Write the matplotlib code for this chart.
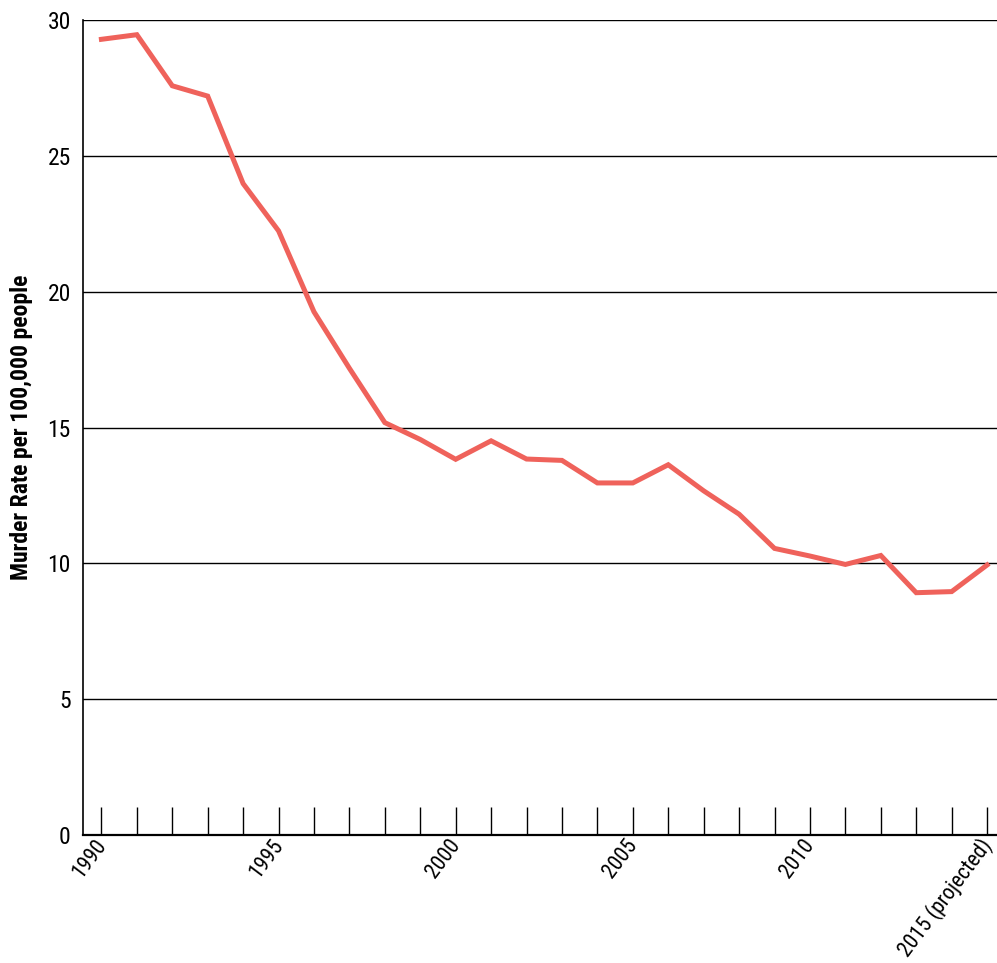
import matplotlib
matplotlib.use("Agg")
import matplotlib.pyplot as plt

years = [1990, 1991, 1992, 1993, 1994, 1995, 1996, 1997, 1998, 1999,
         2000, 2001, 2002, 2003, 2004, 2005, 2006, 2007, 2008, 2009,
         2010, 2011, 2012, 2013, 2014, 2015]
murder_rate = [29.29, 29.46, 27.58, 27.20, 23.98, 22.24, 19.26, 17.18, 15.18, 14.56,
               13.83, 14.51, 13.84, 13.79, 12.96, 12.96, 13.63, 12.67, 11.81, 10.55,
               10.27, 9.96, 10.29, 8.92, 8.96, 9.94]
label_years = [1990, 1995, 2000, 2005, 2010, 2015]
label_texts = ["1990", "1995", "2000", "2005", "2010", "2015 (projected)"]
y_ticks = [0, 5, 10, 15, 20, 25, 30]

plt.rcParams["font.family"] = ["Roboto Condensed", "DejaVu Sans"]

fig = plt.figure(figsize=(9.97, 9.63), dpi=100)
ax = fig.add_axes([0.0836, 0.1329, 1.0 - 0.0836, 0.9792 - 0.1329])

ax.plot(years, murder_rate, color="#ef625b", linewidth=3.6,
        solid_joinstyle="miter", zorder=3)

ax.set_xlim(1989.49, 2015.28)
ax.set_ylim(0, 30)

# horizontal gridlines
for v in y_ticks[1:]:
    ax.axhline(v, color="black", linewidth=1.0, zorder=1)

ax.set_yticks(y_ticks)
ax.set_yticklabels([str(v) for v in y_ticks], fontsize=17)
ax.tick_params(axis="y", length=0, pad=9)

ax.set_xticks(years)
ax.set_xticklabels(["" for _ in years])
ax.tick_params(axis="x", direction="in", length=20, width=1.0, color="black")
for yr, txt in zip(label_years, label_texts):
    ax.text(yr + 0.02, -0.25, txt, rotation=53, rotation_mode="anchor",
            ha="right", va="center", fontsize=15.5)

for side in ["top", "right"]:
    ax.spines[side].set_visible(False)
ax.spines["left"].set_linewidth(1.2)
ax.spines["bottom"].set_linewidth(1.6)

# y label placed by hand so it stays inside the figure
fig.text(22 / 997, 1 - 427 / 963, "Murder Rate per 100,000 people",
         rotation=90, ha="center", va="center", fontsize=17, fontweight="bold")

fig.savefig("out.png", dpi=100)
